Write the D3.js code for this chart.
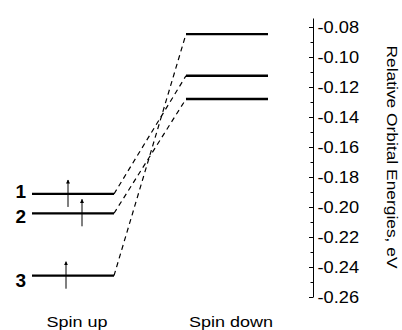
<!DOCTYPE html>
<html>
<head>
<meta charset="utf-8">
<script src="https://cdn.jsdelivr.net/npm/d3@7"></script>
<style>
  body { margin: 0; background: #fff; }
  text { font-family: "Liberation Sans", Arial, sans-serif; fill: #000; }
</style>
</head>
<body>
<div id="chart"></div>
<script>
// orbital energies (eV)
var columns = ["Spin up", "Spin down"];
var levelNames = ["1", "2", "3"];
var spinUp = [-0.1913, -0.2042, -0.2458];
var spinDown = [-0.0847, -0.1125, -0.1280];
// which spin down level each spin up level is joined to
var linkTo = [1, 2, 0];
var majorTicks = [-0.26, -0.24, -0.22, -0.20, -0.18, -0.16, -0.14, -0.12, -0.10, -0.08];
var minorTicks = [-0.25, -0.23, -0.21, -0.19, -0.17, -0.15, -0.13, -0.11, -0.09];
var axisTitle = "Relative Orbital Energies, eV";

var width = 402, height = 330;
var halfLen = 41;
// where the spin arrow sits on each spin up level (offset from level centre)
var arrowShift = [-5, 9, -7];
// number labels are nudged apart so 1 and 2 do not touch
var nameDy = [4, 10, 11];

var svg = d3.select("#chart")
  .append("svg")
    .attr("width", width)
    .attr("height", height);

var x = d3.scalePoint()
  .domain(columns)
  .range([73, 227]);

var y = d3.scaleLinear()
  .domain([-0.26, -0.074])
  .range([297, 18]);

// arrow head
svg.append("defs").append("marker")
    .attr("id", "head")
    .attr("viewBox", "0 0 10 10")
    .attr("refX", 9).attr("refY", 5)
    .attr("markerWidth", 4).attr("markerHeight", 6)
    .attr("markerUnits", "userSpaceOnUse")
    .attr("orient", "auto")
  .append("path")
    .attr("d", "M0,0L10,5L0,10Z")
    .attr("fill", "#000");

// dashed correlation lines
svg.append("g")
  .selectAll("path")
  .data(spinUp)
  .enter()
  .append("path")
    .attr("d", function (d, i) {
      return "M" + (x("Spin up") + halfLen) + "," + y(d) +
             "L" + (x("Spin down") - halfLen) + "," + y(spinDown[linkTo[i]]);
    })
    .attr("fill", "none")
    .attr("stroke", "#000")
    .attr("stroke-width", 1.2)
    .attr("stroke-dasharray", "5,4");

// levels
var levels = [];
spinUp.forEach(function (v, i) { levels.push({col: "Spin up", v: v, i: i}); });
spinDown.forEach(function (v, i) { levels.push({col: "Spin down", v: v, i: i}); });

svg.append("g")
  .selectAll("line")
  .data(levels)
  .enter()
  .append("line")
    .attr("x1", function (d) { return x(d.col) - halfLen; })
    .attr("x2", function (d) { return x(d.col) + halfLen; })
    .attr("y1", function (d) { return y(d.v); })
    .attr("y2", function (d) { return y(d.v); })
    .attr("stroke", "#000")
    .attr("stroke-width", 2.3);

// spin arrows on occupied levels
svg.append("g")
  .selectAll("line")
  .data(spinUp)
  .enter()
  .append("line")
    .attr("x1", function (d, i) { return x("Spin up") + arrowShift[i]; })
    .attr("x2", function (d, i) { return x("Spin up") + arrowShift[i]; })
    .attr("y1", function (d) { return y(d) + 13; })
    .attr("y2", function (d) { return y(d) - 14; })
    .attr("stroke", "#000")
    .attr("stroke-width", 1)
    .attr("marker-end", "url(#head)");

// level numbers
svg.append("g")
  .selectAll("text")
  .data(spinUp)
  .enter()
  .append("text")
    .attr("x", 26)
    .attr("y", function (d, i) { return y(d) + nameDy[i]; })
    .attr("text-anchor", "end")
    .style("font-size", "19px")
    .style("font-weight", "bold")
    .text(function (d, i) { return levelNames[i]; });

// column captions
svg.append("g")
  .selectAll("text")
  .data(columns)
  .enter()
  .append("text")
    .attr("x", function (d) { return x(d) + 4; })
    .attr("y", 327)
    .attr("text-anchor", "middle")
    .attr("textLength", function (d) { return d === "Spin up" ? 61 : 84; })
    .attr("lengthAdjust", "spacingAndGlyphs")
    .style("font-size", "15px")
    .text(function (d) { return d; });

// Y axis on the right
var axisG = svg.append("g")
  .attr("transform", "translate(313,0)");

axisG.call(d3.axisRight(y)
  .tickValues(majorTicks)
  .tickSizeInner(-4)
  .tickSizeOuter(0)
  .tickPadding(4)
  .tickFormat(function (d) { return d.toFixed(2); }));

axisG.selectAll("text")
  .attr("font-family", null)
  .attr("font-size", null)
  .attr("fill", null)
  .attr("transform", "scale(1.14,1)")
  .style("font-size", "16px");

axisG.append("g")
  .call(d3.axisRight(y)
    .tickValues(minorTicks)
    .tickSizeInner(-2.5)
    .tickSizeOuter(0)
    .tickFormat(""))
  .select(".domain").remove();

axisG.selectAll("line, path").attr("stroke", "#000");

// axis title, reading top to bottom
svg.append("text")
  .attr("transform", "translate(387,157) rotate(90)")
  .attr("text-anchor", "middle")
  .attr("textLength", 223)
  .attr("lengthAdjust", "spacingAndGlyphs")
  .style("font-size", "15px")
  .text(axisTitle);
</script>
</body>
</html>
